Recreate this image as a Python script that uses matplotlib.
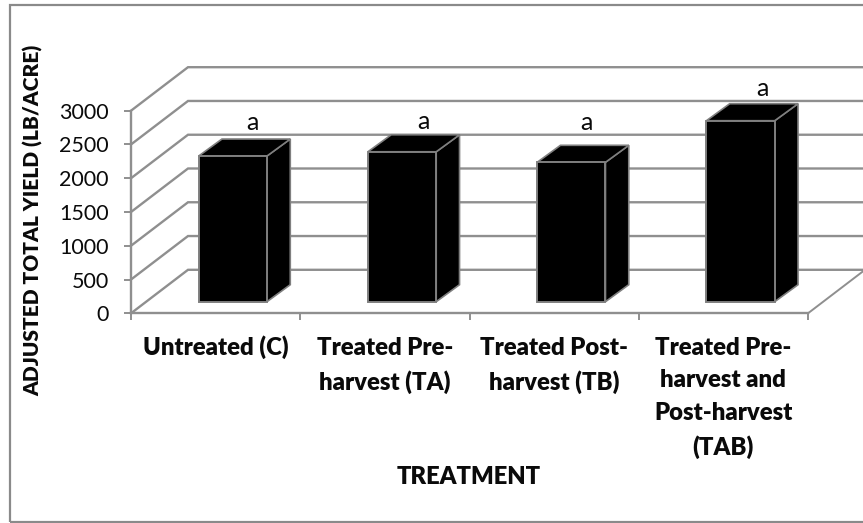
import matplotlib
matplotlib.use("Agg")
import matplotlib.pyplot as plt
from matplotlib.patches import Polygon, Rectangle

plt.rcParams['font.family'] = ['Lato', 'DejaVu Sans']

categories = ["Untreated (C)", "Treated Pre-\nharvest (TA)", "Treated Post-\nharvest (TB)",
              "Treated Pre-\nharvest and\nPost-harvest\n(TAB)"]
yields = [2157, 2220, 2064, 2680]
letters = ["a", "a", "a", "a"]
y_ticks = [0, 500, 1000, 1500, 2000, 2500, 3000]

W, H = 863, 523
GRID = "#8f8f8f"
EDGE = "#7f7f7f"
TEXT = "#0a0a0a"
HEAVY = 800

fig = plt.figure(figsize=(W / 100, H / 100), dpi=100, facecolor="white")
L, R, B, T = 131, 808, 313.3, 110.7
ax = fig.add_axes([L / W, 1 - B / H, (R - L) / W, (B - T) / H])
ax.set_xlim(0, 4)
ax.set_ylim(0, 3000)
ax.patch.set_alpha(0)

px_x = 4 / (R - L)
px_y = 3000 / (B - T)
wall_dx, wall_dy = 57 * px_x, 43.5 * px_y      # depth of the floor
bar_dx, bar_dy = 23.3 * px_x, 17 * px_y        # depth of a bar
lift_dx, lift_dy = 17.2 * px_x, 11.6 * px_y    # bar front behind axis plane
bar_w = 68.3 * px_x

# chart frame
fig.add_artist(Rectangle((10 / W, 1 - 521.5 / H), 870 / W, 516.5 / H, transform=fig.transFigure,
                         fill=False, ec="#8a8a8a", lw=1.6, clip_on=True))

# walls
for v in y_ticks:
    ax.plot([0, wall_dx, 4 + wall_dx], [v, v + wall_dy, v + wall_dy], color=GRID, lw=1.7,
            clip_on=False, zorder=1, solid_joinstyle="miter")
ax.plot([4, 4 + wall_dx], [0, wall_dy], color=GRID, lw=1.4, clip_on=False, zorder=1)

# bars
xs = [i + 0.5 + lift_dx for i in range(len(yields))]
ax.bar(xs, yields, width=bar_w, bottom=lift_dy, color="black", edgecolor=EDGE, linewidth=1.4, zorder=4)
for x, v in zip(xs, yields):
    x0, x1 = x - bar_w / 2, x + bar_w / 2
    y0, y1 = lift_dy, lift_dy + v
    ax.add_patch(Polygon([(x1, y0), (x1 + bar_dx, y0 + bar_dy), (x1 + bar_dx, y1 + bar_dy), (x1, y1)],
                         fc="black", ec=EDGE, lw=1.2, zorder=3, clip_on=False))
    ax.add_patch(Polygon([(x0, y1), (x0 + bar_dx, y1 + bar_dy), (x1 + bar_dx, y1 + bar_dy), (x1, y1)],
                         fc="black", ec=EDGE, lw=1.2, zorder=3, clip_on=False))

# significance letters
letter_dx = [20, 21, 15, 22]
letter_dy = [34, 30, 40, 32]
for x, v, s, dx, dy in zip(xs, yields, letters, letter_dx, letter_dy):
    ax.text(x + dx * px_x, lift_dy + v + dy * px_y, s, ha="center", va="center",
            fontsize=18, color=TEXT, zorder=5, clip_on=False)

# axes
for s in ["top", "right"]:
    ax.spines[s].set_visible(False)
for s in ["left", "bottom"]:
    ax.spines[s].set_color(GRID)
    ax.spines[s].set_linewidth(1.7)
    ax.spines[s].set_zorder(2)
ax.set_yticks(y_ticks)
ax.tick_params(axis="y", length=5, width=1.4, color=GRID, labelsize=15.5, labelcolor=TEXT, pad=11)
ax.set_xticks(range(5))
ax.set_xticklabels([])
ax.tick_params(axis="x", length=5, width=1.4, color=GRID)
label_top_px = [335, 337, 337, 337]
for i, c in enumerate(categories):
    ax.annotate(c, (i + 0.5, 0), xycoords="data", xytext=(0, -(label_top_px[i] - B) * 0.72),
                textcoords="offset points", ha="center", va="top", fontsize=17.2, fontweight=HEAVY,
                color=TEXT, linespacing=1.58, annotation_clip=False)

fig.text(33 / W, 1 - 220 / H, "ADJUSTED TOTAL YIELD (LB/ACRE)", rotation=90, ha="center", va="center",
         fontsize=15, fontweight=HEAVY, color=TEXT)
fig.text(469 / W, 1 - 477 / H, "TREATMENT", ha="center", va="center",
         fontsize=17.1, fontweight=HEAVY, color=TEXT)

fig.savefig("out.png", dpi=100, facecolor="white")
